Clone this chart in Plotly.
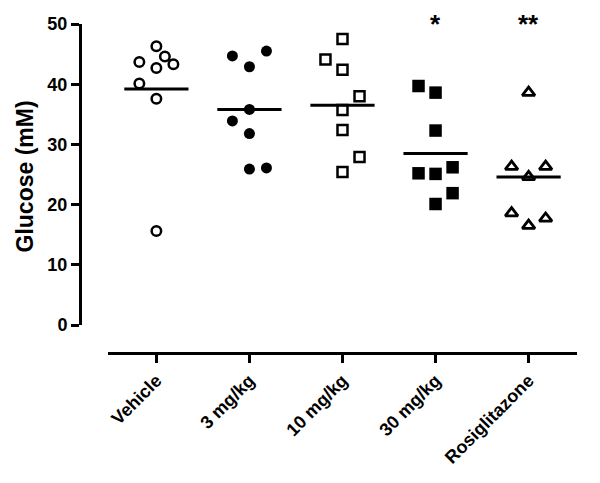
import plotly.graph_objects as go

# dati (glucosio, mM)
categorie = ["Vehicle", "3 mg/kg", "10 mg/kg", "30 mg/kg", "Rosiglitazone"]

vehicle = [46.3, 44.6, 43.7, 43.3, 42.7, 40.1, 37.6, 15.6]
dose_3 = [45.5, 44.7, 42.9, 35.8, 33.9, 31.8, 26.1, 25.9]
dose_10 = [47.5, 44.1, 42.4, 38.0, 35.7, 32.4, 27.9, 25.4]
dose_30 = [39.7, 38.6, 32.3, 25.2, 25.1, 26.2, 21.9, 20.1]
rosiglitazone = [38.6, 26.3, 26.3, 24.6, 18.6, 17.7, 16.5]

medie = [39.2, 35.8, 36.5, 28.5, 24.6]
significativita = ["", "", "", "*", "**"]

# colonna (slot) di ogni punto nello scatter
slot_vehicle = [0, 0.5, -1, 1, 0, -1, 0, 0]
slot_3 = [1, -1, 0, 0, -1, 0, 1, 0]
slot_10 = [0, -1, 0, 1, 0, 0, 1, 0]
slot_30 = [-1, 0, 0, -1, 0, 1, 1, 0]
slot_rosi = [0, -1, 1, 0, -1, 1, 0]

SLOT = 0.183
MEZZA_LARGHEZZA = 0.345
FONT = "Liberation Sans, Arial, sans-serif"

serie = [
    (vehicle, slot_vehicle, dict(symbol="circle-open", size=9.5, color="black", line=dict(width=2.5, color="black"))),
    (dose_3, slot_3, dict(symbol="circle", size=11, color="black")),
    (dose_10, slot_10, dict(symbol="square-open", size=10, color="black", line=dict(width=2.5, color="black"))),
    (dose_30, slot_30, dict(symbol="square", size=12.5, color="black")),
    (rosiglitazone, slot_rosi, dict(symbol="triangle-up-open", size=11, color="black", line=dict(width=2.8, color="black"))),
]

fig = go.Figure()

for i, (valori, slot, marker) in enumerate(serie):
    fig.add_trace(go.Scatter(x=[i + s * SLOT for s in slot], y=valori, mode="markers",
                             marker=marker, showlegend=False, cliponaxis=False))

# linee della media
xs, ys = [], []
for i, m in enumerate(medie):
    xs += [i - MEZZA_LARGHEZZA, i + MEZZA_LARGHEZZA, None]
    ys += [m, m, None]
fig.add_trace(go.Scatter(x=xs, y=ys, mode="lines", line=dict(color="black", width=3),
                         showlegend=False, hoverinfo="skip"))

for i, s in enumerate(significativita):
    if s:
        fig.add_annotation(x=i, y=1.0, xref="x", yref="y domain", text="<b>%s</b>" % s,
                           showarrow=False, font=dict(family=FONT, size=26, color="black"),
                           yanchor="middle")

# titolo asse y come annotazione ruotata
fig.add_annotation(x=-0.111, y=0.536, xref="paper", yref="paper", text="<b>Glucose (mM)</b>",
                   textangle=-90, showarrow=False, xanchor="center", yanchor="middle",
                   font=dict(family=FONT, size=23, color="black"))

# la pagina html ha 8 px di margine: la figura e' ridotta di conseguenza
fig.update_layout(
    template="none",
    width=592, height=475,
    margin=dict(l=72, r=23, t=16, b=130),
    plot_bgcolor="white", paper_bgcolor="white",
    font=dict(family=FONT, color="black"),
    xaxis=dict(domain=[0.0563, 1], anchor="free", position=0, range=[-0.52, 4.52],
               tickmode="array", tickvals=list(range(len(categorie))),
               ticktext=["<b>%s</b>" % c for c in categorie],
               tickangle=-45, ticks="outside", ticklen=8, tickwidth=3, tickcolor="black",
               showline=True, linewidth=3, linecolor="black", showgrid=False, zeroline=False,
               automargin=False,
               tickfont=dict(family=FONT, size=18, color="black")),
    yaxis=dict(domain=[0.0851, 1], anchor="free", position=0, range=[0, 50],
               tickmode="array", tickvals=[0, 10, 20, 30, 40, 50],
               ticktext=["<b>%d</b>" % v for v in [0, 10, 20, 30, 40, 50]],
               ticks="outside", ticklen=8, tickwidth=3, tickcolor="black",
               showline=True, linewidth=3, linecolor="black", showgrid=False, zeroline=False,
               automargin=False,
               tickfont=dict(family=FONT, size=18, color="black")),
)

fig.write_html("out.html")
